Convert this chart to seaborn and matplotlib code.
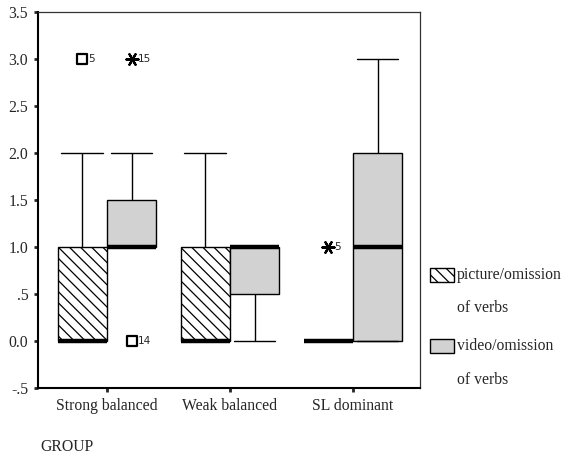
import numpy as np
import pandas as pd
import matplotlib
matplotlib.use('Agg')
import matplotlib.pyplot as plt
import seaborn as sns
from matplotlib.patches import Rectangle

# scores per group and condition (chosen to reproduce the printed box stats)
groups = ["Strong balanced", "Weak balanced", "SL dominant"]
conditions = ["picture/omission of verbs", "video/omission of verbs"]

strong_picture = [0, 0, 0, 0, 0, 0, 1, 1, 1, 2, 3]
strong_video = [0, 1, 1, 1, 1, 1, 1, 1, 2, 2, 3]
weak_picture = [0, 0, 0, 0, 0, 0, 1, 1, 1, 2]
weak_video = [0, 0, 0, 1, 1, 1, 1, 1, 1, 1, 1]
sl_picture = [0, 0, 0, 0, 0, 0, 1]
sl_video = [0, 0, 0, 1, 1, 2, 2, 3, 3]

# outliers (o) and extremes (*) with their case numbers
out_group = [0, 0, 0, 2]
out_cond = [0, 1, 1, 0]
out_value = [3, 3, 0, 1]
out_label = ["5", "15", "14", "5"]
out_kind = ["o", "*", "o", "*"]

yticks = [-0.5, 0, 0.5, 1, 1.5, 2, 2.5, 3, 3.5]
ytick_labels = ["-.5", "0.0", ".5", "1.0", "1.5", "2.0", "2.5", "3.0", "3.5"]

rows = []
series = [(0, 0, strong_picture), (0, 1, strong_video), (1, 0, weak_picture),
          (1, 1, weak_video), (2, 0, sl_picture), (2, 1, sl_video)]
for g, c, vals in series:
    for v in vals:
        rows.append({"group": groups[g], "cond": conditions[c], "score": v})
df = pd.DataFrame(rows)

sns.set_style("white")
plt.rcParams['font.family'] = ['Liberation Serif', 'DejaVu Serif']
plt.rcParams['hatch.linewidth'] = 0.9

fig = plt.figure(figsize=(5.63, 4.59), dpi=100)
ax = fig.add_axes([0.0675, 0.1547, 0.6785, 0.8193])

gray = "#d2d2d2"
sns.boxplot(data=df, x="group", y="score", hue="cond", order=groups,
            hue_order=conditions, palette=["white", gray], width=0.8, gap=0,
            linecolor="black", linewidth=1.0, showfliers=False, whis=1.5,
            medianprops={"linewidth": 3.2, "color": "black"},
            legend=False, ax=ax)

# hatch the picture boxes
for p in ax.patches:
    if tuple(np.round(p.get_facecolor()[:3], 2)) == (1.0, 1.0, 1.0):
        p.set_hatch("\\\\\\")

# widen caps
for cont in ax.containers:
    for cap in cont.caps:
        mid = np.asarray(cap.get_xdata(), dtype=float).mean()
        cap.set_xdata([mid - 0.17, mid + 0.17])

# outliers
for g, c, v, lab, kind in zip(out_group, out_cond, out_value, out_label, out_kind):
    xpos = g + (-0.2 if c == 0 else 0.2)
    if kind == "o":
        ax.scatter([xpos], [v], marker="s", s=45, facecolor="white",
                   edgecolor="black", linewidth=1.6, zorder=5)
    else:
        ax.scatter([xpos], [v], marker=(6, 2, 90), s=75, color="black",
                   linewidth=1.6, zorder=5)
    ax.text(xpos + 0.05, v, lab, fontsize=7.5, family="DejaVu Sans",
            va="center", ha="left")

ax.set_xlim(-0.56, 2.545)
ax.set_ylim(-0.5, 3.5)
ax.set_yticks(yticks)
ax.set_yticklabels(ytick_labels, fontsize=11.3)
ax.set_xticks([0, 1, 2])
ax.set_xticklabels(groups, fontsize=11.3)
ax.set_xlabel("")
ax.set_ylabel("")
ax.tick_params(axis="both", which="both", direction="out", length=3, width=2,
               left=True, bottom=True, pad=4)
for side in ["top", "right"]:
    ax.spines[side].set_linewidth(0.9)
    ax.spines[side].set_color("#333333")
for side in ["left", "bottom"]:
    ax.spines[side].set_linewidth(1.5)
    ax.spines[side].set_color("black")

fig.text(0.071, 0.017, "GROUP", fontsize=11.3, va="baseline", ha="left")

# legend
leg_items = [("picture/omission", "of verbs", "white", "\\\\\\"),
             ("video/omission", "of verbs", gray, None)]
y0 = 0.385
for i, (l1, l2, fc, h) in enumerate(leg_items):
    yy = y0 - i * 0.155
    fig.add_artist(Rectangle((0.764, yy), 0.042, 0.032, transform=fig.transFigure,
                             facecolor=fc, edgecolor="black", linewidth=1.0,
                             hatch=h))
    fig.text(0.812, yy + 0.016, l1, fontsize=11.3, va="center", ha="left")
    fig.text(0.812, yy - 0.057, l2, fontsize=11.3, va="center", ha="left")

fig.savefig("out.png", dpi=100)
